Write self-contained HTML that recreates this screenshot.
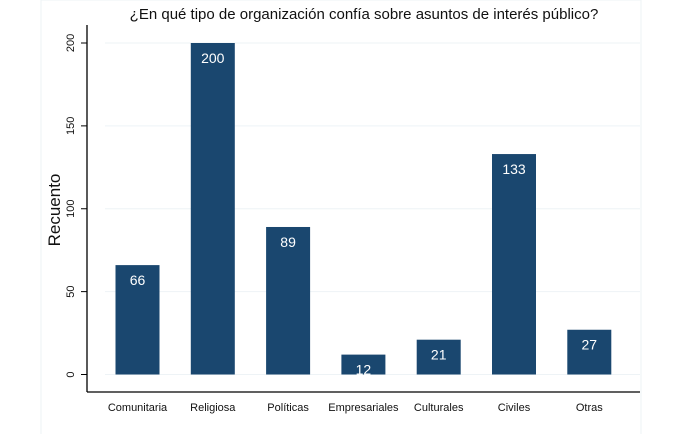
<!DOCTYPE html>
<html><head><meta charset="utf-8"><style>
body{margin:0;background:#fff;font-family:"Liberation Sans",sans-serif}
svg{display:block}
</style></head><body>
<svg width="682" height="434">
<rect x="41" y="0" width="600" height="440" fill="none" stroke="#eef3f6"/>
<text x="364" y="19" font-size="15" text-anchor="middle" fill="#111">¿En qué tipo de organización confía sobre asuntos de interés público?</text>
<g id="grid"></g>
<g id="bars"></g>
<g id="axes"></g>
<text transform="translate(60,210) rotate(-90)" font-size="17" text-anchor="middle" fill="#111">Recuento</text>
</svg>
<script>
const categories=["Comunitaria","Religiosa","Políticas","Empresariales","Culturales","Civiles","Otras"];
const values=[66,200,89,12,21,133,27];
const yTicks=[0,50,100,150,200];
const NS="http://www.w3.org/2000/svg";
const y0=374.5,yTop=43,x0=137.5,step=75.3,bw=44;
function ys(v){return y0-(v/200)*(y0-yTop);}
function xs(i){return x0+i*step;}
function mk(t,a,p){const e=document.createElementNS(NS,t);for(const k in a)e.setAttribute(k,a[k]);p.appendChild(e);return e;}
const grid=document.getElementById('grid'),bars=document.getElementById('bars'),axes=document.getElementById('axes');
yTicks.forEach(v=>{
 const g=mk('line',{x1:105,x2:640,y1:ys(v),y2:ys(v),stroke:'#eef3f6','stroke-width':1},grid);
 
 
 const t=mk('line',{x1:81,x2:87,y1:ys(v),y2:ys(v),stroke:'#000','stroke-width':1},axes);
 
 
 const l=mk('text',{transform:`translate(74,${ys(v)}) rotate(-90)`,'font-size':11,'text-anchor':'middle',fill:'#111'},axes);
 l.textContent=v;
 
 
});
mk('line',{x1:87,x2:87,y1:25,y2:392,stroke:'#000','stroke-width':1.3},axes);
mk('line',{x1:87,x2:640,y1:392,y2:392,stroke:'#000','stroke-width':1.3},axes);
values.forEach((v,i)=>{
 const r=mk('rect',{x:xs(i)-bw/2,y:ys(v),width:bw,height:y0-ys(v),fill:'#1a476f'},bars);
 
 
 const t=mk('text',{x:xs(i),y:ys(v)+20,'font-size':14,'text-anchor':'middle',fill:'#fff'},bars);
 t.textContent=v;
 
 
 const c=mk('text',{x:xs(i),y:411,'font-size':11,'text-anchor':'middle',fill:'#111'},axes);
 c.textContent=categories[i];
 
 
});
</script>
</body></html>
